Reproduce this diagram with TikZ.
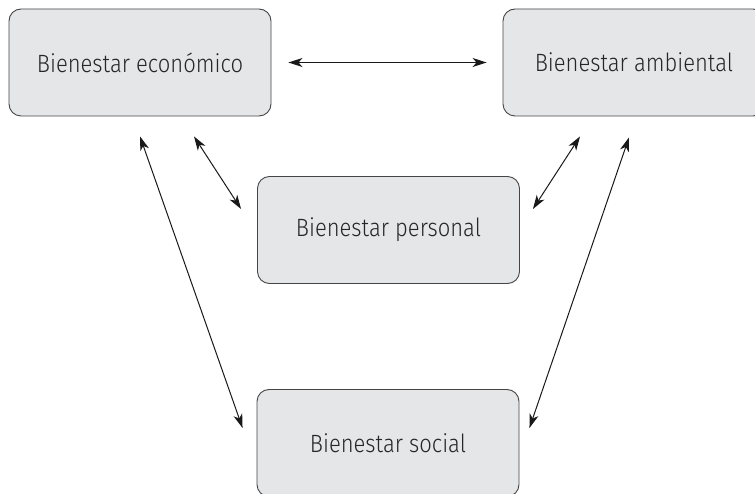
\documentclass[tikz,border=0pt]{standalone}
\usepackage{fontspec}
\setmainfont{Fira Sans}[UprightFont=* Light, FakeStretch=0.88]
\usetikzlibrary{arrows.meta}
\definecolor{boxfill}{HTML}{E5E6E8}
\definecolor{boxline}{HTML}{454545}
\definecolor{boxtext}{HTML}{262626}
\tikzset{
  bienbox/.style={draw=boxline, fill=boxfill, rounded corners=12pt, line width=0.9pt,
    minimum width=262pt, minimum height=107pt, inner sep=0pt, text=boxtext,
    font=\fontsize{25pt}{29pt}\selectfont},
  rel/.style={black!90, line width=1pt, {Stealth[length=14pt,width=9pt,inset=4pt]}-{Stealth[length=14pt,width=9pt,inset=4pt]}}
}
\begin{document}
\begin{tikzpicture}[x=1pt,y=1pt]
     \useasboundingbox (0,0) rectangle (755,-494);
     \begin{scope}
     \clip (0,0) rectangle (755,-494);
     \node[bienbox] (econ) at (140,-62.5) {Bienestar económico};
     \node[bienbox] (amb) at (634,-62.5) {Bienestar ambiental};
     \node[bienbox] (pers) at (388.5,-230) {Bienestar personal};
     \node[bienbox] (soc) at (388,-443) {Bienestar social};
     \end{scope}
     \draw[rel] ([xshift=17pt]econ.east) -- ([xshift=-16pt]amb.west);
     \draw[rel] ([xshift=54pt,yshift=-20pt]econ.south) -- ([xshift=-16pt,yshift=21pt]pers.west);
     \draw[rel] ([yshift=-20pt]econ.south) -- ([xshift=-14pt,yshift=15pt]soc.west);
     \draw[rel] ([xshift=-54pt,yshift=-20pt]amb.south) -- ([xshift=13pt,yshift=21pt]pers.east);
     \draw[rel] ([xshift=-5pt,yshift=-21pt]amb.south) -- ([xshift=10pt,yshift=15pt]soc.east);
\end{tikzpicture}
\end{document}
